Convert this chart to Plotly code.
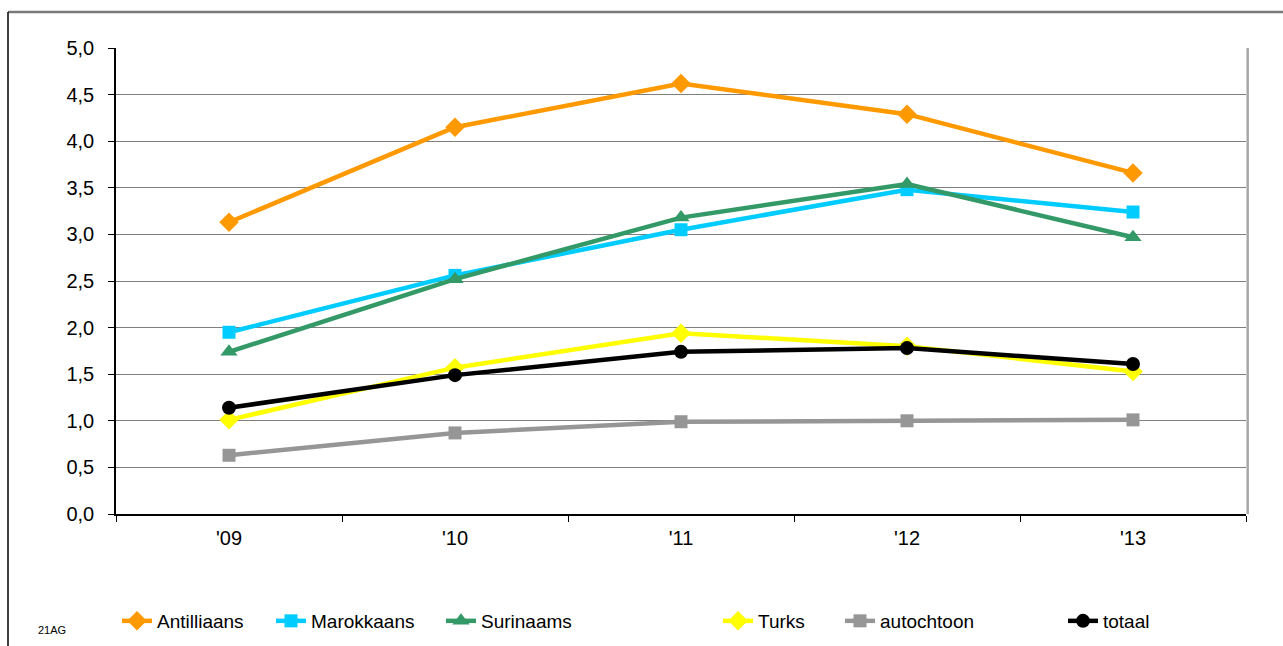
import plotly.graph_objects as go

years = ["'09", "'10", "'11", "'12", "'13"]
antilliaans = [3.13, 4.15, 4.62, 4.29, 3.66]
marokkaans = [1.95, 2.56, 3.05, 3.48, 3.24]
surinaams = [1.74, 2.52, 3.18, 3.54, 2.97]
turks = [1.01, 1.57, 1.94, 1.80, 1.53]
autochtoon = [0.63, 0.87, 0.99, 1.00, 1.01]
totaal = [1.14, 1.49, 1.74, 1.78, 1.61]

series = [
    ("Antilliaans", antilliaans, "#FF9900", "diamond", 15),
    ("Marokkaans", marokkaans, "#00CCFF", "square", 13),
    ("Surinaams", surinaams, "#339966", "triangle-up", 15),
    ("Turks", turks, "#FFFF00", "diamond", 15),
    ("autochtoon", autochtoon, "#969696", "square", 13),
    ("totaal", totaal, "#000000", "circle", 14),
]

# layout in reference pixels; vertical scaled to compensate page capture
W, H0 = 1283, 646
S = 652 / 646
H = int(round(H0 * S))
L, R = 116, 1246
T, B = 48 * S, 514 * S
pw, ph = R - L, B - T

def px_x(p):
    return (p - L) / pw

def px_y(p):
    return (B - p * S) / ph

text_starts = [157, 311, 481, 758, 880, 1103]
FONT = "Liberation Sans, Arial, sans-serif"

fig = go.Figure()
layout_legends = {}
for i, (name, vals, col, sym, sz) in enumerate(series):
    lg = "legend" if i == 0 else f"legend{i+1}"
    fig.add_trace(go.Scatter(
        x=years, y=vals, name=name, mode="lines+markers",
        line=dict(color=col, width=4.5),
        marker=dict(symbol=sym, size=sz, color=col),
        legend=lg,
    ))
    layout_legends[lg] = dict(
        x=px_x(text_starts[i] - 40), xanchor="left",
        y=px_y(621), yanchor="middle",
        xref="paper", yref="paper",
        orientation="h", bgcolor="rgba(0,0,0,0)",
        font=dict(family=FONT, size=19, color="#000000"),
    )

fig.update_layout(
    width=W, height=H,
    margin=dict(l=L, r=W - R, t=T, b=H - B),
    paper_bgcolor="white", plot_bgcolor="white",
    separators=",.",
    font=dict(family=FONT, size=19, color="#000000"),
    showlegend=True,
    **layout_legends,
)

fig.update_xaxes(
    type="category", range=[-0.5, 4.5],
    tickson="boundaries", ticks="outside", ticklen=6, tickcolor="#000000",
    showline=True, linecolor="#000000", linewidth=1.5,
    showgrid=False, zeroline=False,
    tickfont=dict(size=20), ticklabelstandoff=5,
)
fig.update_yaxes(
    range=[0, 5], dtick=0.5, tickformat=".1f",
    ticks="outside", ticklen=6, tickcolor="#000000",
    showline=True, linecolor="#000000", linewidth=1.5,
    showgrid=True, gridcolor="#7f7f7f", gridwidth=1,
    zeroline=False, tickfont=dict(size=20), ticklabelstandoff=10,
)

# right border of plot area, outer frame
fig.add_shape(type="line", xref="x domain", yref="y domain",
              x0=1.0015, x1=1.0015, y0=0, y1=1,
              line=dict(color="#A6A6A6", width=2.5))
fig.add_shape(type="line", xref="paper", yref="paper",
              x0=px_x(8), x1=px_x(1283), y0=px_y(12), y1=px_y(12),
              line=dict(color="#7a7a7a", width=2.5))
fig.add_shape(type="line", xref="paper", yref="paper",
              x0=px_x(8), x1=px_x(8), y0=px_y(12), y1=px_y(646),
              line=dict(color="#000000", width=1.5))

fig.add_annotation(text="21AG", xref="paper", yref="paper",
                   x=px_x(36), y=px_y(630), xanchor="left", yanchor="middle",
                   showarrow=False, font=dict(size=11, color="#000000"))

post = (
    "document.documentElement.style.margin='0';"
    "document.body.style.margin='0';"
)
fig.write_html("out.html", post_script=post, config={"displayModeBar": False})
